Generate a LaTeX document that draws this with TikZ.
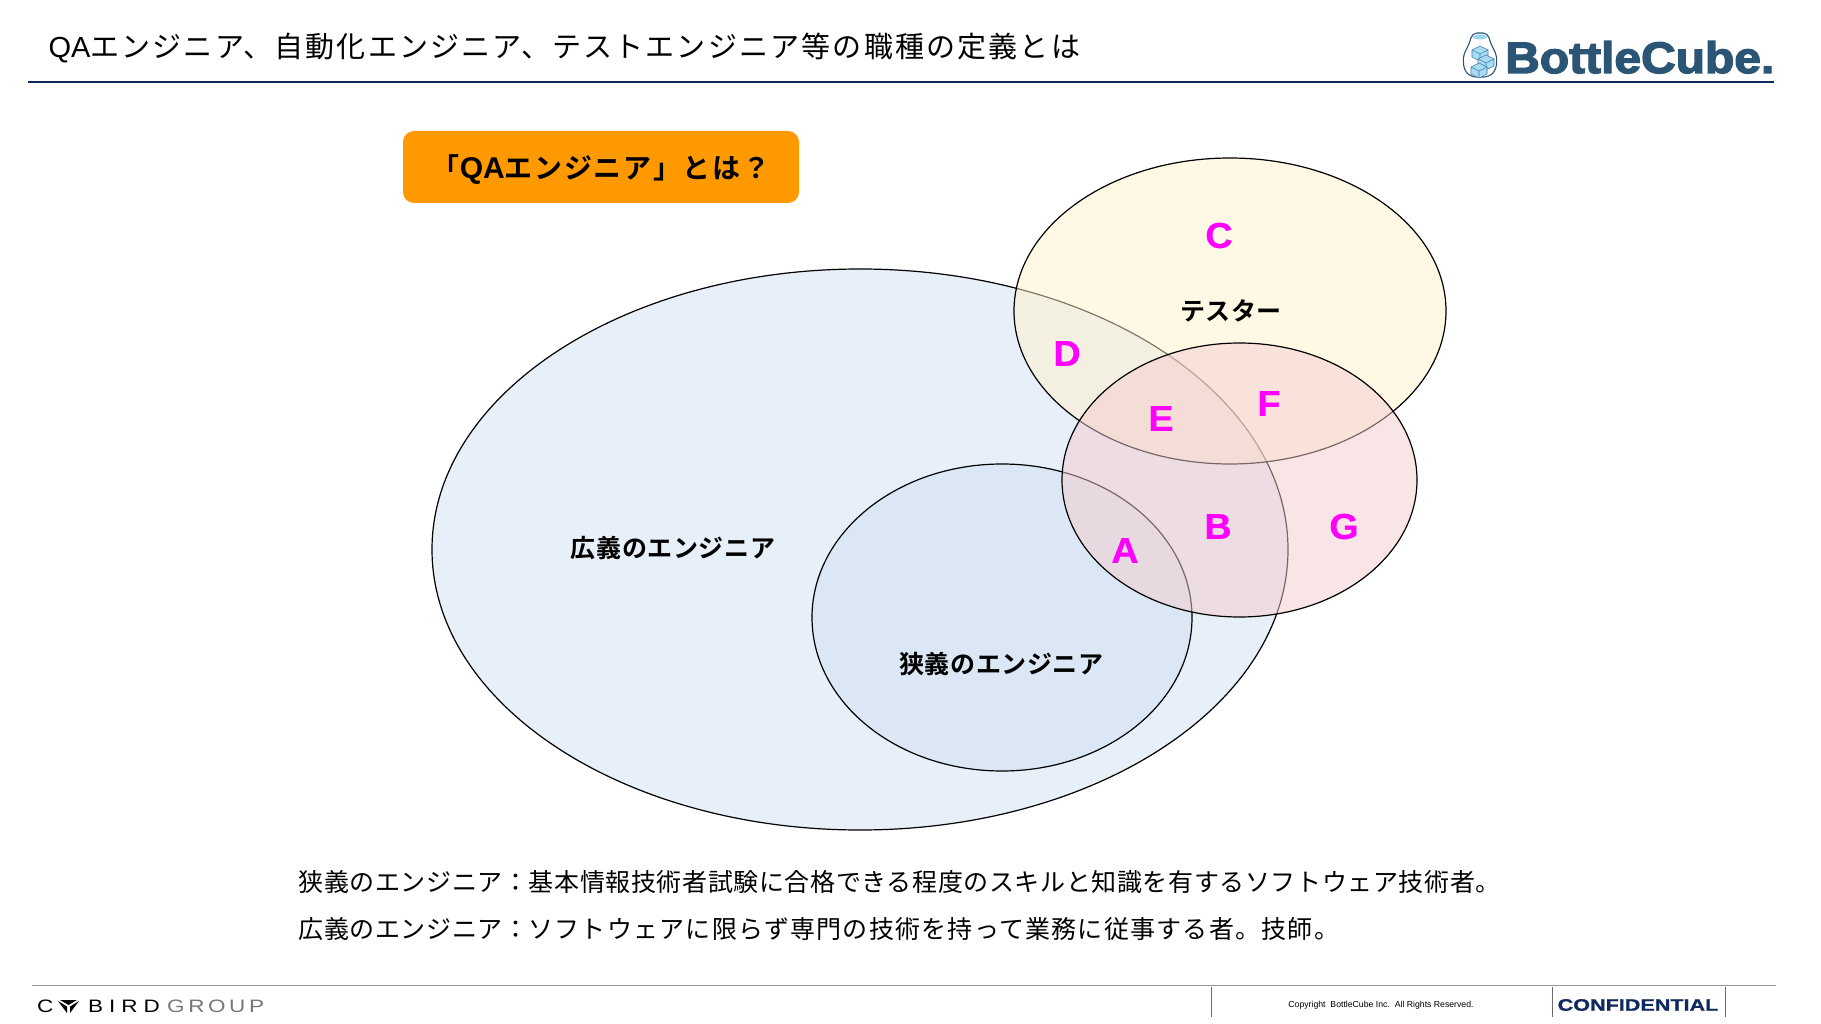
\documentclass[tikz,border=0pt]{standalone}
\usepackage{fontspec}
\setmainfont{Liberation Sans}
\newfontfamily\jptitle[LetterSpace=7.5]{Noto Sans CJK JP}
\newfontfamily\jpbody[LetterSpace=2.4]{Noto Sans CJK JP}
\newfontfamily\jpbodywide[LetterSpace=5]{Noto Sans CJK JP}
\newfontfamily\jpbold[LetterSpace=2.4]{Noto Sans CJK JP Bold}
\newfontfamily\jpquestion[LetterSpace=6]{Noto Sans CJK JP Bold}
\newfontfamily\areafont[FakeStretch=1.05,FakeBold=.5]{Liberation Sans Bold}
\newfontfamily\logofont[FakeStretch=1.09,FakeBold=3]{Liberation Sans Bold}
\newfontfamily\birdfont[LetterSpace=33,FakeStretch=1.25]{Liberation Sans}
\newfontfamily\groupfont[LetterSpace=20,FakeStretch=1.25]{Liberation Sans}
\newfontfamily\confidfont[FakeStretch=1.3,FakeBold=1]{Liberation Sans Bold}
\definecolor{navyline}{HTML}{0F2A5C}
\definecolor{footline}{HTML}{999999}
\definecolor{boxorange}{HTML}{FF9900}
\definecolor{bigblue}{HTML}{E7EFF9}
\definecolor{smallblue}{HTML}{DBE7F5}
\definecolor{testeryellow}{HTML}{FFF2CC}
\definecolor{qapink}{HTML}{F4CCCC}
\definecolor{arealetterpink}{HTML}{FF00FF}
\definecolor{logoblue}{HTML}{2B5574}
\definecolor{cubeblue}{HTML}{A9DCF2}
\definecolor{cubeedge}{HTML}{3F7FA6}
\definecolor{groupgray}{HTML}{777777}
\tikzset{
  venntext/.style={font=\fontsize{25}{25}\selectfont\jpbold},
  arealetter/.style={text=arealetterpink,font=\fontsize{36}{36}\selectfont\areafont},
  bodytext/.style={anchor=west,font=\fontsize{25}{25}\selectfont\jpbody},
  seteven/.style={draw=black,line width=1.2pt}
}
\begin{document}
\begin{tikzpicture}[x=1pt,y=-1pt]
  \useasboundingbox (0,0) rectangle (1821,1024);

  % Draw the header
  \node[anchor=west,font=\fontsize{29}{29}\selectfont] (title) at (45,47.5) {QA\jptitle エンジニア、自動化エンジニア、テストエンジニア等の職種の定義とは};
  \draw[navyline,line width=2pt] (28,82) -- (1774,82);

  % Draw the bottle of the logo
  \draw[logoblue,line width=1.1pt,fill=white,rounded corners=5pt] (1472,33) -- (1488,33) -- (1490,42) -- (1497,56) -- (1496,70) -- (1489,77) -- (1471,77) -- (1464,70) -- (1463,56) -- (1470,42) -- cycle;
  \fill[cubeblue!120] (1480,37) ellipse [x radius=7, y radius=2.5];
  \foreach \cx/\cy in {1480/53,1486/62,1479/70} {
    \filldraw[cubeedge,fill=cubeblue,line width=.6pt] (\cx,\cy-7) -- (\cx+8,\cy-3) -- (\cx+8,\cy+4) -- (\cx,\cy+8) -- (\cx-8,\cy+4) -- (\cx-8,\cy-3) -- cycle;
    \draw[cubeedge,line width=.6pt] (\cx-8,\cy-3) -- (\cx,\cy+1) -- (\cx+8,\cy-3) (\cx,\cy+1) -- (\cx,\cy+8);
  }
  \node[anchor=base west,inner sep=0pt,text=logoblue,font=\fontsize{44}{44}\selectfont\logofont] (logo) at (1505,73) {BottleCube.};

  % Draw the orange box
  \node[fill=boxorange,rounded corners=11pt,minimum width=396pt,minimum height=72pt,inner sep=0pt] (question) at (601,167) {};
  \node[font=\fontsize{28}{28}\selectfont] (questiontext) at (601,170) {\jpquestion 「{\fontsize{30}{30}\selectfont\bfseries\rmfamily QA}エンジニア」とは？};

  % Draw the four sets
  \filldraw[seteven,fill=bigblue] (860,549.5) ellipse [x radius=428, y radius=280.5];
  \filldraw[seteven,fill=smallblue] (1002,617.5) ellipse [x radius=190, y radius=153.5];
  \filldraw[seteven,fill=testeryellow,fill opacity=.5] (1230,311) ellipse [x radius=216, y radius=153];
  \filldraw[seteven,fill=qapink,fill opacity=.5] (1239.5,480) ellipse [x radius=177.5, y radius=137];

  % Draw the names of the sets
  \node[venntext] (tester) at (1231,311) {テスター};
  \node[venntext] (broad) at (673,548) {広義のエンジニア};
  \node[venntext] (narrow) at (1001.5,664) {狭義のエンジニア};

  % Draw the letters of the areas
  \node[arealetter] (areaA) at (1125,550.5) {A};
  \node[arealetter] (areaB) at (1218,526.5) {B};
  \node[arealetter] (areaC) at (1219,235.5) {C};
  \node[arealetter] (areaD) at (1067,353.5) {D};
  \node[arealetter] (areaE) at (1161,418.5) {E};
  \node[arealetter] (areaF) at (1269,403.5) {F};
  \node[arealetter] (areaG) at (1344,526.5) {G};

  % Draw the two definitions
  \node[bodytext] (narrowdef) at (295,882.5) {狭義のエンジニア：基本情報技術者試験に合格できる程度のスキルと知識を有するソフトウェア技術者。};
  \node[bodytext] (broaddef) at (295,929.5) {広義のエンジニア：\jpbodywide ソフトウェアに限らず専門の技術を持って業務に従事する者。技師。};

  % Draw the footer
  \draw[footline,line width=1pt] (32,985) -- (1776,985);
  \draw[footline!70!black,line width=1pt] (1211,987) -- (1211,1017);
  \draw[footline!70!black,line width=1pt] (1552,987) -- (1552,1017);
  \draw[footline!70!black,line width=1pt] (1725,987) -- (1725,1017);
  \node[anchor=base west,inner sep=0pt,font=\fontsize{18}{18}\selectfont\birdfont] (cletter) at (37,1012.5) {C};
  \fill (60,1000) -- (77,1000) -- (68.5,1005) -- cycle;
  \fill (58,1001) -- (67,1006.5) -- (67,1013) -- cycle;
  \fill (79,1001) -- (70,1006.5) -- (70,1013) -- cycle;
  \node[anchor=base west,inner sep=0pt,font=\fontsize{18}{18}\selectfont\birdfont] (bird) at (88,1012.5) {BIRD};
  \node[anchor=base west,inner sep=0pt,text=groupgray,font=\fontsize{18}{18}\selectfont\groupfont] (group) at (167,1012.5) {GROUP};
  \node[font=\fontsize{8.7}{9}\selectfont] (copyright) at (1381,1005) {Copyright\ \ BottleCube Inc.\ \ All Rights Reserved.};
  \node[text=navyline,font=\fontsize{16.6}{17}\selectfont\confidfont] (confidential) at (1638,1005) {CONFIDENTIAL};
\end{tikzpicture}
\end{document}
